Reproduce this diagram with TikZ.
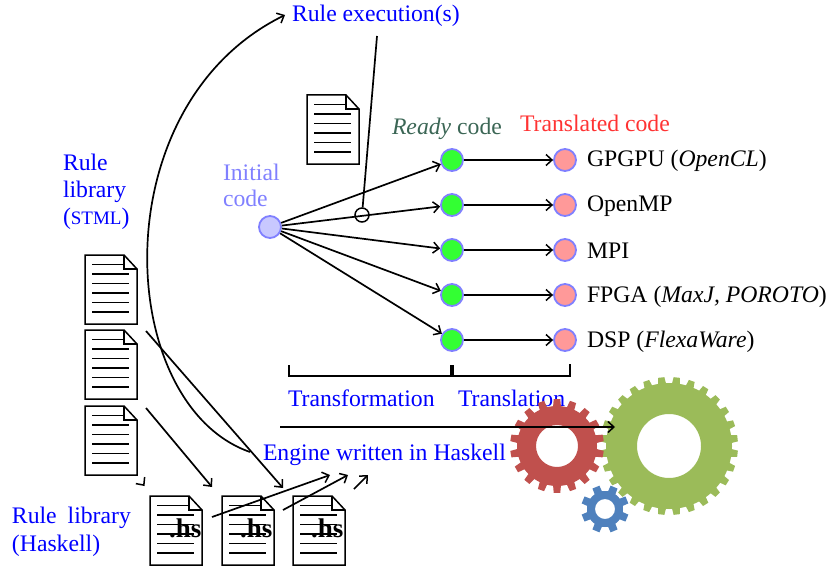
\documentclass[tikz,border=0pt]{standalone}
\usepackage{fontspec}
\setmainfont{Liberation Serif}
\usetikzlibrary{arrows.meta}
\definecolor{initblue}{HTML}{8080FF}
\definecolor{initfill}{HTML}{C8C8FF}
\definecolor{readygreen}{HTML}{33FF33}
\definecolor{transred}{HTML}{FF9999}
\definecolor{readytext}{HTML}{3B6655}
\definecolor{transtext}{HTML}{FF3333}
\definecolor{gearred}{HTML}{C0504D}
\definecolor{geargreen}{HTML}{9BBB59}
\definecolor{gearblue}{HTML}{4F81BD}
\newcommand{\gearat}[7]{% x,y,colour,teeth,root,outer,hole
  \begin{scope}[shift={(#1,#2)}]
  \pgfmathsetmacro{\st}{360/#4}
  \fill[#3,even odd rule] (0:#5)
    \foreach \k in {1,...,#4} {
      \pgfextra{\pgfmathsetmacro{\aa}{(\k-1)*\st+0.22*\st}\pgfmathsetmacro{\ab}{(\k-1)*\st+0.30*\st}\pgfmathsetmacro{\ac}{(\k-1)*\st+0.70*\st}\pgfmathsetmacro{\ad}{(\k-1)*\st+0.78*\st}\pgfmathsetmacro{\ae}{\k*\st}}
      -- (\aa:#5) -- (\ab:#6) -- (\ac:#6) -- (\ad:#5) -- (\ae:#5)
    } -- cycle (0,0) circle[radius=#7];
  \end{scope}}
\tikzset{
  x=1pt,y=-1pt,
  lab/.style={anchor=base west,inner sep=0pt,outer sep=0pt,font=\fontsize{23.7}{27}\selectfont},
  rule/.style={lab,text=blue},
  initnode/.style={circle,draw=initblue,fill=initfill,line width=1.8pt,minimum size=22pt,inner sep=0pt},
  readynode/.style={circle,draw=initblue,fill=readygreen,line width=1.8pt,minimum size=22pt,inner sep=0pt},
  transnode/.style={circle,draw=initblue,fill=transred,line width=1.8pt,minimum size=22pt,inner sep=0pt},
  link/.style={line width=1.7pt,-{Straight Barb[length=6pt,width=11pt,line width=1.5pt]}},
  plain/.style={line width=1.7pt},
  hsmark/.style={anchor=base west,inner sep=0pt,font=\fontsize{27}{27}\selectfont\bfseries},
  doc/.pic={
    \draw[line width=1.5pt,fill=white] (0,0) -- (39,0) -- (52,14) -- (52,69) -- (0,69) -- cycle;
    \draw[line width=1.3pt] (39,0) -- (39,14) -- (52,14);
    \draw[line width=1.1pt] (7,9.5) -- (39,9.5);
    \foreach \yy in {19,28.5,38,47.5,57} \draw[line width=1.1pt] (7,\yy) -- (44,\yy);
  }
}
\begin{document}
\begin{tikzpicture}
\useasboundingbox (0,0) rectangle (826,567);
% documents
\pic at (307,95) {doc};
\pic at (85,255) {doc};
\pic at (85,330) {doc};
\pic at (85,406) {doc};
\pic at (150,496) {doc};
\pic at (222,496) {doc};
\pic at (293,496) {doc};
\node[hsmark] (hsa) at (169,537) {.hs};
\node[hsmark] (hsb) at (240,537) {.hs};
\node[hsmark] (hsc) at (311,537) {.hs};
% text
\node[rule] (exec) at (292,22) {Rule execution(s)};
\node[rule] (lib1) at (63,170) {Rule};
\node[rule] (lib2) at (63,197) {library};
\node[rule] (lib3) at (63,224) {(\fontsize{19}{27}\selectfont STML\fontsize{23.7}{27}\selectfont)};
\node[lab,text=initblue] (init1) at (223,180) {Initial};
\node[lab,text=initblue] (init2) at (223,206) {code};
\node[lab,text=readytext] (readyl) at (392,134) {\textit{Ready} code};
\node[lab,text=transtext] (transl) at (520,131) {Translated code};
\node[lab] (tgpgpu) at (587,166) {GPGPU (\textit{OpenCL})};
\node[lab] (tomp) at (587,211) {OpenMP};
\node[lab] (tmpi) at (587,258) {MPI};
\node[lab] (tfpga) at (587,302) {FPGA (\textit{MaxJ, POROTO})};
\node[lab] (tdsp) at (587,347) {DSP (\textit{FlexaWare})};
\node[rule] (tform) at (288,406) {Transformation};
\node[rule] (tlat) at (458,406) {Translation};
\node[rule] (engine) at (263,460) {Engine written in Haskell};
\node[rule] (hask1) at (12,523) {Rule\hspace{5pt} library};
\node[rule] (hask2) at (12,551) {(Haskell)};
% gears
\gearat{669}{446}{geargreen}{28}{63}{69}{32}
\gearat{557}{446}{gearred}{18}{40}{47}{21}
\gearat{605}{509}{gearblue}{8}{18}{24}{10}
% graph
\node[initnode] (init) at (270,227) {};
\foreach \n/\yy in {a/160,b/205,c/250,d/295,e/340} {
  \node[readynode] (r\n) at (452,\yy) {};
  \node[transnode] (t\n) at (565,\yy) {};
  \draw[link] (init) -- (r\n);
  \draw[link] (r\n) -- (t\n);
}
\node[circle,draw,line width=1.5pt,minimum size=14pt,inner sep=0pt] (probe) at (362,215) {};
\coordinate (execout) at (377,36);
\draw[plain] (execout) -- (probe);
% brackets
\coordinate (bA1) at (289,365); \coordinate (bA2) at (451,365);
\coordinate (bB1) at (453,365); \coordinate (bB2) at (570,364);
\draw[plain] (bA1) |- (bA2 |- 0,376) -- (bA2);
\draw[plain] (bB1) |- (bB2 |- 0,376) -- (bB2);
% engine links
\coordinate (curveS) at (250,452);
\coordinate (curveE) at (285,15);
\draw[link] (curveS) .. controls (115,405) and (100,106) .. (curveE);
\coordinate (a1s) at (146,331); \coordinate (a1e) at (283,488);
\coordinate (a2s) at (146,408); \coordinate (a2e) at (212,487);
\coordinate (a3s) at (143,484); \coordinate (a3e) at (144.5,486);
\draw[link] (a1s) -- (a1e);
\draw[link] (a2s) -- (a2e);
\draw[link] (a3s) -- (a3e);
\coordinate (b1s) at (212,517); \coordinate (b1e) at (330,475);
\coordinate (b2s) at (283,510); \coordinate (b2e) at (348,475);
\coordinate (b3s) at (354,489); \coordinate (b3e) at (368,475);
\draw[link] (b1s) -- (b1e);
\draw[link] (b2s) -- (b2e);
\draw[link] (b3s) -- (b3e);
\coordinate (ls) at (280,427); \coordinate (le) at (615,427);
\draw[link] (ls) -- (le);
\end{tikzpicture}
\end{document}
